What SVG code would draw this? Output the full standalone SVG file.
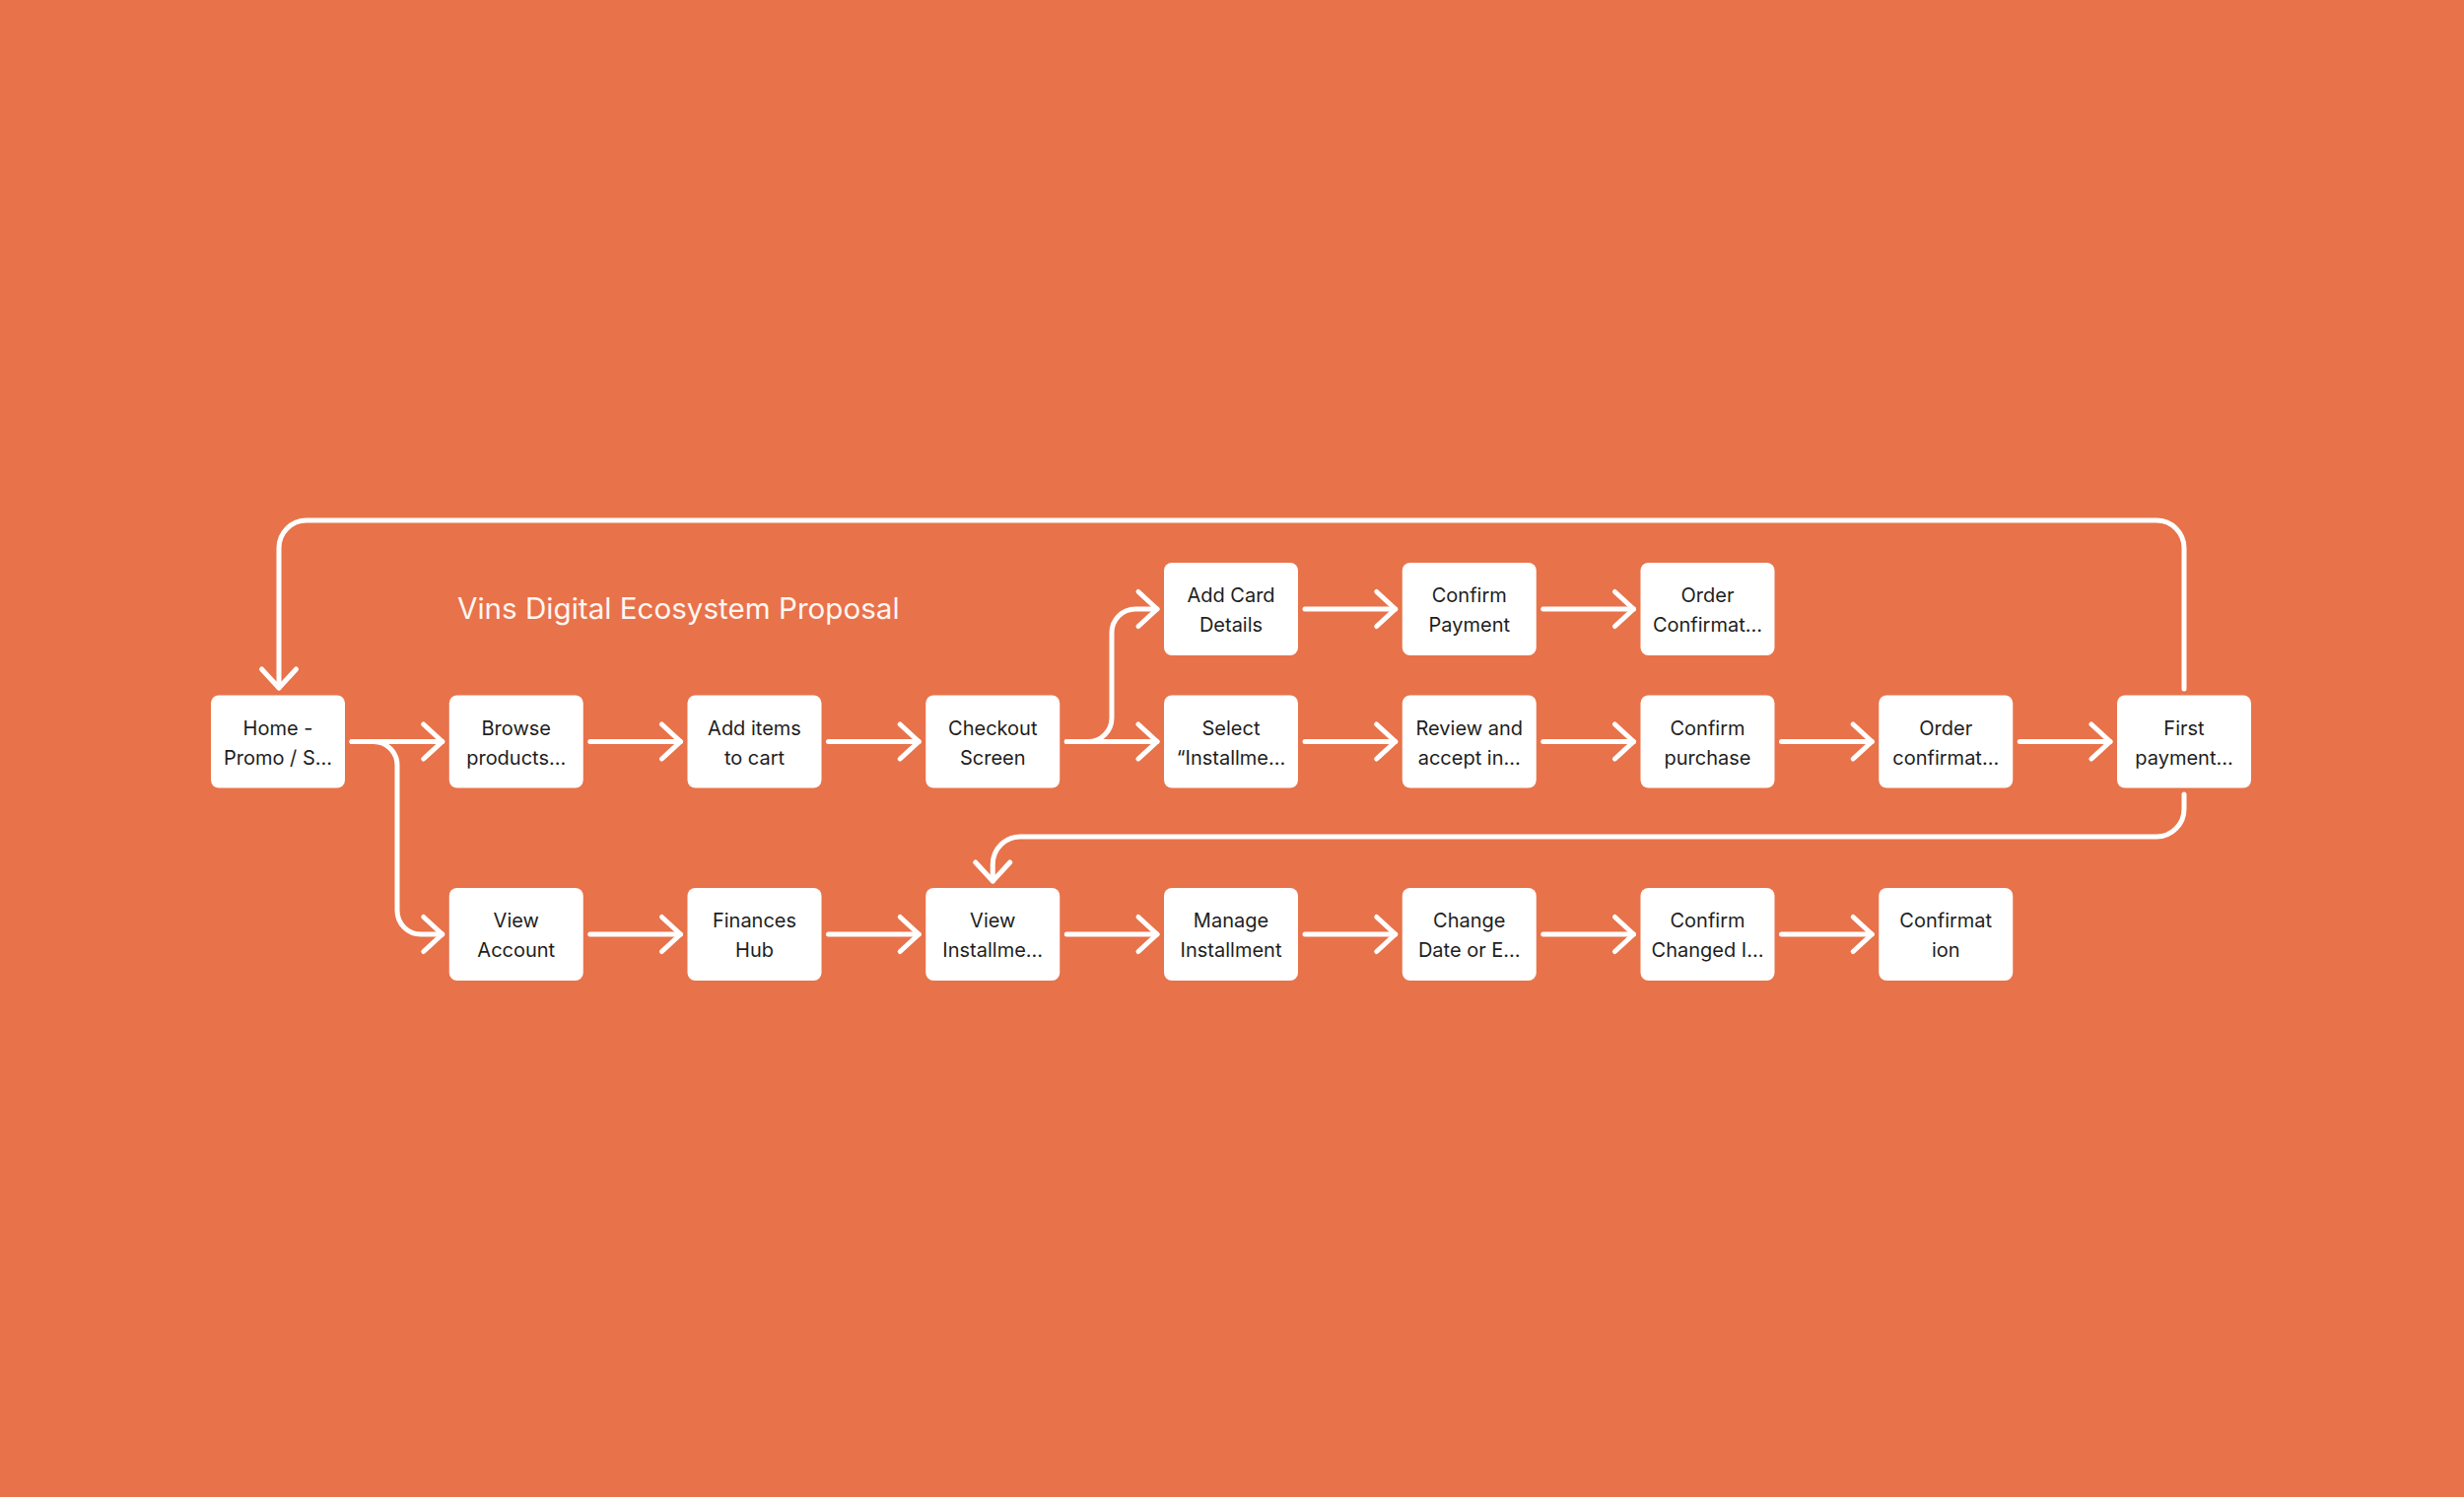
<svg xmlns="http://www.w3.org/2000/svg" width="2500" height="1519" viewBox="0 0 2500 1519">
<style>
.box{fill:#ffffff;}
.lbl{font-family:Inter,"Noto Sans","Liberation Sans",sans-serif;font-size:20px;fill:#1e1e1e;text-anchor:middle;}
.title{font-family:Inter,"Noto Sans","Liberation Sans",sans-serif;font-size:29.6px;fill:#fff6f2;}
.conn{fill:none;stroke:#ffffff;stroke-width:5;stroke-linecap:round;stroke-linejoin:round;marker-end:url(#arr);}
</style>
<defs>
<marker id="arr" markerUnits="userSpaceOnUse" viewBox="-5 -22 30 44" markerWidth="30" markerHeight="44" refX="19" refY="0" orient="auto" overflow="visible">
<path d="M0,-17.5 L19,0 L0,17.5" fill="none" stroke="#ffffff" stroke-width="5" stroke-linecap="round" stroke-linejoin="round"/>
</marker>
</defs>
<rect x="0" y="0" width="2500" height="1519" fill="#E8724A"/>
<text class="title" x="464" y="628">Vins Digital Ecosystem Proposal</text>

<g id="connectors">
<!-- row 2 -->
<path class="conn" d="M357,752.5 H448.75"/>
<path class="conn" d="M598.75,752.5 H690.5"/>
<path class="conn" d="M840.5,752.5 H932.25"/>
<path class="conn" d="M1082.25,752.5 H1174"/>
<path class="conn" d="M1324,752.5 H1415.75"/>
<path class="conn" d="M1565.75,752.5 H1657.5"/>
<path class="conn" d="M1807.5,752.5 H1899.25"/>
<path class="conn" d="M2049.25,752.5 H2141"/>
<!-- row 1 -->
<path class="conn" d="M1324,618 H1415.75"/>
<path class="conn" d="M1565.75,618 H1657.5"/>
<!-- row 3 -->
<path class="conn" d="M598.75,948 H690.5"/>
<path class="conn" d="M840.5,948 H932.25"/>
<path class="conn" d="M1082.25,948 H1174"/>
<path class="conn" d="M1324,948 H1415.75"/>
<path class="conn" d="M1565.75,948 H1657.5"/>
<path class="conn" d="M1807.5,948 H1899.25"/>
<!-- branches -->
<path class="conn" d="M357,752.5 H379 A24,24 0 0 1 403,776.5 V924 A24,24 0 0 0 427,948 H448.75"/>
<path class="conn" d="M1082.25,752.5 H1104 A24,24 0 0 0 1128,728.5 V642 A24,24 0 0 1 1152,618 H1174"/>
<!-- loops -->
<path class="conn" d="M2216,699 V556 A28,28 0 0 0 2188,528 H311 A28,28 0 0 0 283,556 V698"/>
<path class="conn" d="M2216,806 V821 A28,28 0 0 1 2188,849 H1035 A28,28 0 0 0 1007.25,877 V894"/>
</g>

<g id="node-add-card"><rect class="box" x="1181" y="571" width="136" height="94" rx="8"/><text class="lbl" x="1249" y="611">Add Card</text><text class="lbl" x="1249" y="641">Details</text></g>
<g id="node-confirm-payment"><rect class="box" x="1422.75" y="571" width="136" height="94" rx="8"/><text class="lbl" x="1490.75" y="611">Confirm</text><text class="lbl" x="1490.75" y="641">Payment</text></g>
<g id="node-order-confirmation-1"><rect class="box" x="1664.5" y="571" width="136" height="94" rx="8"/><text class="lbl" x="1732.5" y="611">Order</text><text class="lbl" x="1732.5" y="641">Confirmat…</text></g>

<g id="node-home"><rect class="box" x="214" y="705.5" width="136" height="94" rx="8"/><text class="lbl" x="282" y="745.5">Home -</text><text class="lbl" x="282" y="775.5">Promo / S…</text></g>
<g id="node-browse"><rect class="box" x="455.75" y="705.5" width="136" height="94" rx="8"/><text class="lbl" x="523.75" y="745.5">Browse</text><text class="lbl" x="523.75" y="775.5">products…</text></g>
<g id="node-add-items"><rect class="box" x="697.5" y="705.5" width="136" height="94" rx="8"/><text class="lbl" x="765.5" y="745.5">Add items</text><text class="lbl" x="765.5" y="775.5">to cart</text></g>
<g id="node-checkout"><rect class="box" x="939.25" y="705.5" width="136" height="94" rx="8"/><text class="lbl" x="1007.25" y="745.5">Checkout</text><text class="lbl" x="1007.25" y="775.5">Screen</text></g>
<g id="node-select-installment"><rect class="box" x="1181" y="705.5" width="136" height="94" rx="8"/><text class="lbl" x="1249" y="745.5">Select</text><text class="lbl" x="1249" y="775.5">“Installme…</text></g>
<g id="node-review"><rect class="box" x="1422.75" y="705.5" width="136" height="94" rx="8"/><text class="lbl" x="1490.75" y="745.5">Review and</text><text class="lbl" x="1490.75" y="775.5">accept in…</text></g>
<g id="node-confirm-purchase"><rect class="box" x="1664.5" y="705.5" width="136" height="94" rx="8"/><text class="lbl" x="1732.5" y="745.5">Confirm</text><text class="lbl" x="1732.5" y="775.5">purchase</text></g>
<g id="node-order-confirmation-2"><rect class="box" x="1906.25" y="705.5" width="136" height="94" rx="8"/><text class="lbl" x="1974.25" y="745.5">Order</text><text class="lbl" x="1974.25" y="775.5">confirmat…</text></g>
<g id="node-first-payment"><rect class="box" x="2148" y="705.5" width="136" height="94" rx="8"/><text class="lbl" x="2216" y="745.5">First</text><text class="lbl" x="2216" y="775.5">payment…</text></g>

<g id="node-view-account"><rect class="box" x="455.75" y="901" width="136" height="94" rx="8"/><text class="lbl" x="523.75" y="941">View</text><text class="lbl" x="523.75" y="971">Account</text></g>
<g id="node-finances-hub"><rect class="box" x="697.5" y="901" width="136" height="94" rx="8"/><text class="lbl" x="765.5" y="941">Finances</text><text class="lbl" x="765.5" y="971">Hub</text></g>
<g id="node-view-installment"><rect class="box" x="939.25" y="901" width="136" height="94" rx="8"/><text class="lbl" x="1007.25" y="941">View</text><text class="lbl" x="1007.25" y="971">Installme…</text></g>
<g id="node-manage-installment"><rect class="box" x="1181" y="901" width="136" height="94" rx="8"/><text class="lbl" x="1249" y="941">Manage</text><text class="lbl" x="1249" y="971">Installment</text></g>
<g id="node-change-date"><rect class="box" x="1422.75" y="901" width="136" height="94" rx="8"/><text class="lbl" x="1490.75" y="941">Change</text><text class="lbl" x="1490.75" y="971">Date or E…</text></g>
<g id="node-confirm-changed"><rect class="box" x="1664.5" y="901" width="136" height="94" rx="8"/><text class="lbl" x="1732.5" y="941">Confirm</text><text class="lbl" x="1732.5" y="971">Changed I…</text></g>
<g id="node-confirmation"><rect class="box" x="1906.25" y="901" width="136" height="94" rx="8"/><text class="lbl" x="1974.25" y="941">Confirmat</text><text class="lbl" x="1974.25" y="971">ion</text></g>
</svg>
